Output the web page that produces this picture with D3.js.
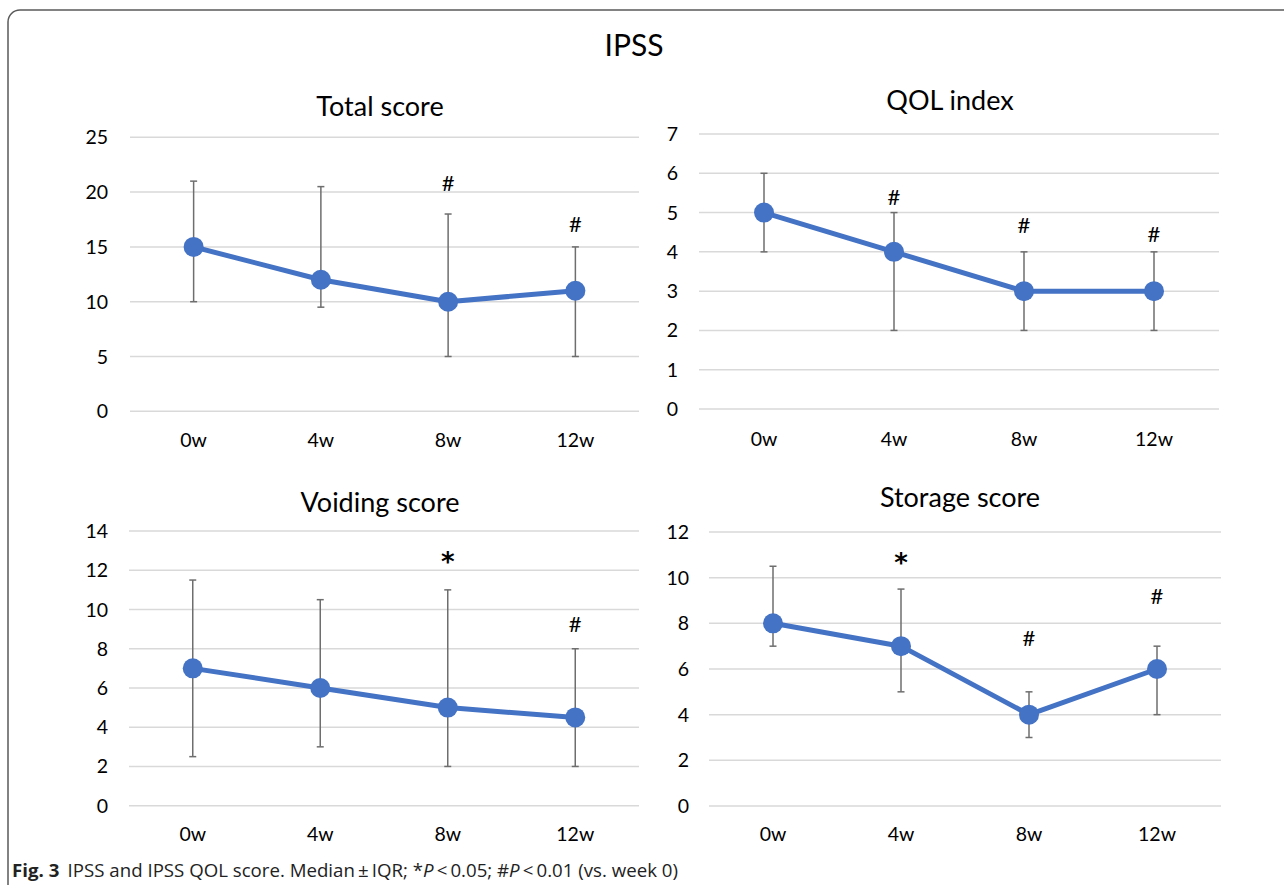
<!DOCTYPE html>
<html><head><meta charset="utf-8">
<script src="https://cdn.jsdelivr.net/npm/d3@7"></script>
<style>
html,body{margin:0;padding:0;background:#fff;}
svg{display:block;}
</style></head>
<body>
<svg id="c" width="1284" height="885"></svg>
<script>
// ---- data ----
const weeks = ["0w", "4w", "8w", "12w"];

const totalMedian = [15, 12, 10, 11];
const totalLow    = [10, 9.5, 5, 5];
const totalHigh   = [21, 20.5, 18, 15];
const totalMarks  = ["", "", "#", "#"];
const totalMarkAt = [null, null, 20.8, 17.1];
const totalTicks  = [0, 5, 10, 15, 20, 25];

const qolMedian = [5, 4, 3, 3];
const qolLow    = [4, 2, 2, 2];
const qolHigh   = [6, 5, 4, 4];
const qolMarks  = ["", "#", "#", "#"];
const qolMarkAt = [null, 5.4, 4.68, 4.45];
const qolTicks  = [0, 1, 2, 3, 4, 5, 6, 7];

const voidMedian = [7, 6, 5, 4.5];
const voidLow    = [2.5, 3, 2, 2];
const voidHigh   = [11.5, 10.5, 11, 8];
const voidMarks  = ["", "", "*", "#"];
const voidMarkAt = [null, null, 12.6, 9.26];
const voidTicks  = [0, 2, 4, 6, 8, 10, 12, 14];

const storMedian = [8, 7, 4, 6];
const storLow    = [7, 5, 3, 4];
const storHigh   = [10.5, 9.5, 5, 7];
const storMarks  = ["", "*", "#", "#"];
const storMarkAt = [null, 10.8, 7.36, 9.2];
const storTicks  = [0, 2, 4, 6, 8, 10, 12];

const mainTitle = "IPSS";
const panelTitles = ["Total score", "QOL index", "Voiding score", "Storage score"];

// ---- layout ----
const svg = d3.select("#c");
const FONT = "Lato, 'Open Sans', sans-serif";
const BLUE = "#4472C4";

// frame
svg.append("rect").attr("x", 8).attr("y", 10).attr("width", 1300).attr("height", 900)
  .attr("rx", 12).attr("fill", "none").attr("stroke", "#5a5a5a").attr("stroke-width", 1.5);

svg.append("text").attr("x", 634).attr("y", 56).attr("text-anchor", "middle")
  .attr("font-family", FONT).attr("font-size", 30).attr("fill", "#000").text(mainTitle);

const panels = [
  {title: panelTitles[0], med: totalMedian, lo: totalLow, hi: totalHigh, marks: totalMarks, markAt: totalMarkAt, ticks: totalTicks,
   xr: [130, 639], y0: 411.3, y1: 137.3, tickX: 108, titleX: 380, titleY: 116, xlabY: 447},
  {title: panelTitles[1], med: qolMedian, lo: qolLow, hi: qolHigh, marks: qolMarks, markAt: qolMarkAt, ticks: qolTicks,
   xr: [699, 1219], y0: 409, y1: 134, tickX: 678, titleX: 950, titleY: 110, xlabY: 446},
  {title: panelTitles[2], med: voidMedian, lo: voidLow, hi: voidHigh, marks: voidMarks, markAt: voidMarkAt, ticks: voidTicks,
   xr: [129, 639], y0: 805.7, y1: 531, tickX: 108, titleX: 380, titleY: 512, xlabY: 841},
  {title: panelTitles[3], med: storMedian, lo: storLow, hi: storHigh, marks: storMarks, markAt: storMarkAt, ticks: storTicks,
   xr: [709, 1221], y0: 806, y1: 532, tickX: 689, titleX: 960, titleY: 507, xlabY: 841}
];

panels.forEach(p => {
  const g = svg.append("g");
  const x = d3.scaleBand().domain(weeks).range(p.xr);
  const cx = d => x(d) + x.bandwidth() / 2;
  const y = d3.scaleLinear().domain([0, d3.max(p.ticks)]).range([p.y0, p.y1]);

  // title
  g.append("text").attr("x", p.titleX).attr("y", p.titleY).attr("text-anchor", "middle")
    .attr("font-family", FONT).attr("font-size", 27).attr("fill", "#000").text(p.title);

  // gridlines
  g.selectAll(".grid").data(p.ticks).join("line")
    .attr("x1", p.xr[0]).attr("x2", p.xr[1])
    .attr("y1", d => y(d)).attr("y2", d => y(d))
    .attr("stroke", "#d9d9d9").attr("stroke-width", 1.5);

  // y tick labels
  g.selectAll(".yl").data(p.ticks).join("text")
    .attr("x", p.tickX).attr("y", d => y(d)).attr("dy", "0.36em")
    .attr("text-anchor", "end").attr("font-family", FONT).attr("font-size", 19.5).attr("fill", "#000")
    .text(d => d);

  // x labels
  g.selectAll(".xl").data(weeks).join("text")
    .attr("x", d => cx(d)).attr("y", p.xlabY).attr("text-anchor", "middle")
    .attr("font-family", FONT).attr("font-size", 19.5).attr("fill", "#000").text(d => d);

  // error bars
  weeks.forEach((w, i) => {
    const X = cx(w);
    g.append("line").attr("x1", X).attr("x2", X).attr("y1", y(p.lo[i])).attr("y2", y(p.hi[i]))
      .attr("stroke", "#6e6e6e").attr("stroke-width", 1.5);
    [p.lo[i], p.hi[i]].forEach(v => {
      g.append("line").attr("x1", X - 3.5).attr("x2", X + 3.5).attr("y1", y(v)).attr("y2", y(v))
        .attr("stroke", "#6e6e6e").attr("stroke-width", 1.5);
    });
  });

  // line
  const line = d3.line().x((d, i) => cx(weeks[i])).y(d => y(d));
  g.append("path").datum(p.med).attr("d", line).attr("fill", "none")
    .attr("stroke", BLUE).attr("stroke-width", 5).attr("stroke-linejoin", "round");

  g.selectAll(".pt").data(p.med).join("circle")
    .attr("cx", (d, i) => cx(weeks[i])).attr("cy", d => y(d)).attr("r", 10).attr("fill", BLUE);

  // significance marks
  weeks.forEach((w, i) => {
    if (!p.marks[i]) return;
    const star = p.marks[i] === "*";
    g.append("text").attr("x", cx(w)).attr("y", y(p.markAt[i]))
      .attr("dy", star ? "0.5em" : "0.36em")
      .attr("text-anchor", "middle")
      .attr("font-family", star ? "'DejaVu Sans', sans-serif" : FONT)
      .attr("font-weight", star ? "bold" : "normal")
      .attr("font-size", star ? 26 : 22).attr("fill", "#000")
      .text(p.marks[i]);
  });
});

// caption
const cap = svg.append("text").attr("x", 12).attr("y", 877)
  .attr("font-family", "'Open Sans', sans-serif").attr("font-size", 18).attr("fill", "#222")
  .attr("textLength", 666).attr("lengthAdjust", "spacingAndGlyphs");
cap.append("tspan").attr("font-weight", "bold").text("Fig. 3");
cap.append("tspan").attr("dx", 8).text("IPSS and IPSS QOL score. Median\u2009\u00B1\u2009IQR; *");
cap.append("tspan").attr("font-style", "italic").text("P");
cap.append("tspan").text("\u2009<\u20090.05; #");
cap.append("tspan").attr("font-style", "italic").text("P");
cap.append("tspan").text("\u2009<\u20090.01 (vs. week 0)");
</script>
</body></html>
